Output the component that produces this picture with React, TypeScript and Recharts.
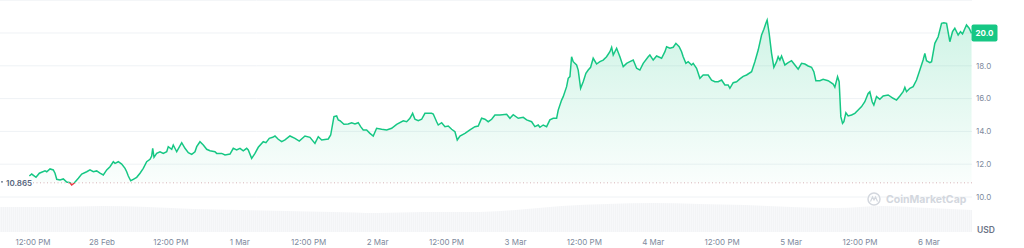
import React from 'react';
import { ComposedChart, Area, XAxis, YAxis, CartesianGrid, ReferenceLine } from 'recharts';

// hours since 27 Feb 00:00
const times = [
  11.36,11.77,12.52,13.10,14.09,14.39,14.96,15.53,15.83,16.13,
  16.70,17.27,17.87,18.44,18.74,19.14,19.89,20.48,21.35,21.92,
  22.50,23.09,23.66,24.24,24.83,25.40,25.98,26.28,26.85,27.44,
  28.02,28.31,28.59,29.01,29.46,30.05,30.63,31.20,31.79,32.37,
  32.66,32.84,33.07,33.53,34.11,34.68,35.28,35.55,36.15,36.42,
  37.02,37.89,38.46,39.04,39.63,40.20,40.50,41.07,41.65,42.24,
  42.81,43.68,43.98,44.85,45.43,46.30,46.87,47.46,48.04,48.61,
  49.20,49.48,50.07,50.65,51.22,52.09,52.56,53.14,53.73,54.13,
  54.70,55.30,55.87,56.74,57.61,58.36,59.35,60.22,61.09,61.67,
  62.26,63.41,63.83,64.40,64.87,65.15,65.45,66.14,66.89,67.48,
  68.06,68.63,69.05,69.50,70.09,70.67,71.24,71.83,72.70,73.58,
  74.45,75.32,76.47,77.06,77.63,78.10,78.50,79.08,79.67,80.24,
  81.41,81.69,82.28,82.56,83.15,83.73,84.30,84.89,85.47,85.87,
  86.34,87.21,88.08,88.95,89.52,90.11,90.69,91.26,91.86,92.43,
  93.30,94.47,95.04,95.62,96.49,97.36,97.95,98.82,99.39,99.97,
  100.26,100.84,101.43,102.00,102.58,103.17,103.45,104.04,104.32,104.91,
  105.19,105.49,105.78,106.06,106.65,106.93,107.35,107.80,108.27,108.67,
  109.09,109.54,110.13,110.71,111.28,111.87,112.45,112.75,113.03,113.62,
  114.19,114.77,115.36,115.93,116.51,117.10,117.67,118.25,119.12,119.41,
  119.99,120.58,121.45,122.03,122.32,122.90,123.47,123.94,124.51,124.93,
  125.21,125.68,126.08,126.67,126.95,127.54,128.12,128.69,129.56,130.15,
  130.73,131.30,131.90,132.47,133.04,133.34,133.92,134.51,135.08,135.66,
  136.25,137.12,137.69,138.27,138.86,139.26,139.61,139.83,140.18,140.60,
  141.00,141.47,141.75,142.05,142.34,142.92,143.49,144.08,144.66,145.23,
  145.82,146.40,146.97,147.56,147.96,148.31,149.01,149.58,150.45,151.32,
  151.62,152.09,152.37,152.66,152.96,153.19,153.54,153.94,154.53,155.10,
  155.68,156.27,156.84,157.42,157.71,158.12,158.41,158.88,159.45,160.03,
  160.90,161.77,162.36,162.94,163.51,163.81,164.10,164.68,165.25,165.84,
  166.42,166.99,167.29,167.58,168.16,168.46,169.03,169.61,170.20,170.60,
  171.07,171.64,172.11,172.51,173.09,173.50,173.85,174.54,175.00,175.42,
];

const prices = [
  11.28,11.40,11.20,11.45,11.59,11.54,11.71,11.65,11.45,11.08,
  11.04,11.10,10.91,10.87,10.73,10.84,11.14,11.40,11.54,11.65,
  11.54,11.59,11.45,11.34,11.65,11.85,12.15,12.05,12.15,12.01,
  11.75,11.54,11.28,10.99,11.08,11.20,11.45,11.75,12.15,12.30,
  12.50,12.97,12.42,12.66,12.76,12.66,12.76,13.07,12.91,13.17,
  12.76,13.31,12.97,12.70,12.60,12.76,13.07,13.37,13.17,12.91,
  12.82,12.76,12.66,12.66,12.56,12.62,12.97,12.87,12.97,12.82,
  12.97,12.87,12.36,12.66,13.03,13.37,13.31,13.58,13.64,13.72,
  13.52,13.37,13.48,13.72,13.58,13.41,13.72,13.64,13.27,13.68,
  13.48,13.54,13.78,14.90,14.94,14.70,14.65,14.43,14.45,14.53,
  14.45,14.53,14.29,14.09,14.09,13.88,13.72,14.19,14.13,14.09,
  14.19,14.43,14.65,14.59,14.80,15.10,14.74,14.65,14.74,15.10,
  15.10,15.06,14.59,14.39,14.53,14.29,14.33,14.13,13.98,13.48,
  13.72,13.88,14.09,14.29,14.33,14.80,14.74,14.59,14.74,15.00,
  15.00,15.04,14.80,15.02,14.80,14.86,14.70,14.59,14.29,14.39,
  14.25,14.39,14.29,14.70,14.80,14.80,15.30,15.91,16.12,16.73,
  17.24,17.34,18.55,18.25,18.05,17.74,16.63,17.03,17.54,17.74,
  17.91,18.46,18.11,18.25,18.35,18.55,18.86,19.13,18.66,19.07,
  18.55,17.95,18.15,18.25,18.35,17.85,17.74,18.15,18.55,18.66,
  18.35,18.60,18.46,18.86,19.16,19.07,19.13,19.37,19.16,18.86,
  18.55,18.15,18.25,18.05,18.15,17.85,17.24,17.44,17.44,17.13,
  17.03,17.03,17.13,16.83,16.83,16.63,16.97,17.03,17.20,17.36,
  17.44,17.64,18.25,18.96,19.88,20.23,20.59,20.79,19.98,18.76,
  17.91,18.25,18.55,18.35,18.60,18.05,18.19,18.31,18.05,17.79,
  18.15,18.11,17.99,17.91,17.64,17.09,17.09,17.18,17.09,16.89,
  16.69,17.34,17.03,14.90,14.49,14.59,15.14,14.94,15.00,15.10,
  15.30,15.51,15.81,16.32,16.42,15.81,15.61,16.12,15.96,16.16,
  16.22,16.02,15.91,16.16,16.42,16.69,16.42,16.63,16.73,17.13,
  17.74,18.35,18.76,18.31,18.19,18.25,19.37,19.77,20.59,20.63,
  20.59,19.47,20.08,20.29,19.88,20.08,19.94,20.49,20.29,19.98,
];

const volTimes = [6.25, 8, 16, 24, 32, 40, 48, 56, 64, 72, 80, 88, 96, 104, 112, 120, 128, 136, 144, 152, 160, 168, 175.5];
const volumes = [25, 25, 25, 26, 25, 23, 22, 21, 20, 19, 20, 20, 22, 26, 28, 29, 28, 27, 25, 24, 26, 24, 22];

const xTicks = [12, 24, 36, 48, 60, 72, 84, 96, 108, 120, 132, 144, 156, 168];
const xTickLabels = ['12:00 PM', '28 Feb', '12:00 PM', '1 Mar', '12:00 PM', '2 Mar', '12:00 PM', '3 Mar', '12:00 PM', '4 Mar', '12:00 PM', '5 Mar', '12:00 PM', '6 Mar'];
const yTicks = [10, 12, 14, 16, 18, 20, 22];
const OPEN_PRICE = 10.865;
const OPEN_LABEL = '10.865';
const LAST_PRICE_LABEL = '20.0';
const CURRENCY = 'USD';
const WATERMARK = 'CoinMarketCap';

const X_DOMAIN: [number, number] = [6.25, 175.5];
const Y_DOMAIN: [number, number] = [7.866, 22.012];

const GREEN = '#16c784';
const RED = '#ea3943';

const data = [
  ...times.map((t, i) => ({ t, price: prices[i] })),
  ...volTimes.map((t, i) => ({ t, vol: volumes[i] })),
].sort((a, b) => a.t - b.t);

const PriceTick = (props: any) => {
  const { x, y, payload } = props;
  const v = payload.value;
  if (v === 22) return <g />;
  if (v === 20) {
    return (
      <g>
        <rect x={x - 4.5} y={y - 8.5} width={26} height={17} rx={2} fill={GREEN} />
        <text x={x + 8.5} y={y} dy="0.35em" textAnchor="middle" fill="#ffffff" fontSize={8} fontWeight={700}>
          {LAST_PRICE_LABEL}
        </text>
      </g>
    );
  }
  return (
    <text x={x} y={y} dy="0.35em" textAnchor="start" fill="#808a9d" fontSize={8}>
      {v.toFixed(1)}
    </text>
  );
};

const OpenLabel = (props: any) => {
  const { viewBox } = props;
  const y = viewBox.y;
  return (
    <g>
      <rect x={0} y={y - 6} width={31} height={12} fill="#ffffff" />
      <circle cx={2} cy={y - 1} r={0.9} fill="#58667e" />
      <text x={6} y={y} dy="0.35em" fill="#58667e" fontSize={8} fontWeight={600}>
        {OPEN_LABEL}
      </text>
    </g>
  );
};

export default function App() {
  const split = (Y_DOMAIN[1] - OPEN_PRICE) / (Y_DOMAIN[1] - Y_DOMAIN[0]);
  return (
    <div style={{ position: 'absolute', left: 0, top: 0, width: 1024, height: 248, background: '#fff', fontFamily: 'Inter, sans-serif' }}>
      <style>{'body{margin:0}'}</style>
      <ComposedChart width={1024} height={248} data={data} margin={{ top: 0, right: 0, bottom: 0, left: 0 }}>
        <defs>
          <linearGradient id="fillGrad" x1="0" y1="0" x2="0" y2="1">
            <stop offset="0%" stopColor={GREEN} stopOpacity={0.34} />
            <stop offset="100%" stopColor={GREEN} stopOpacity={0.03} />
          </linearGradient>
          <linearGradient id="strokeGrad" gradientUnits="userSpaceOnUse" x1="0" y1="0" x2="0" y2="232">
            <stop offset={split} stopColor={GREEN} />
            <stop offset={split} stopColor={RED} />
          </linearGradient>
          <pattern id="volPat" width="2" height="8" patternUnits="userSpaceOnUse">
            <rect width="2" height="8" fill="#f3f4f6" />
            <rect width="0.8" height="8" fill="#f9fafb" />
          </pattern>
        </defs>
        <CartesianGrid yAxisId="p" horizontal vertical={false} stroke="#eff2f5" syncWithTicks />
        <XAxis
          dataKey="t"
          type="number"
          domain={X_DOMAIN}
          allowDataOverflow
          ticks={xTicks}
          tickFormatter={(v: number) => xTickLabels[xTicks.indexOf(v)] ?? ''}
          axisLine={false}
          tickLine={false}
          height={16}
          tickSize={6}
          tickMargin={1}
          tick={{ fontSize: 8, fill: '#808a9d' }}
          interval={0}
        />
        <YAxis
          yAxisId="p"
          orientation="right"
          width={52}
          domain={Y_DOMAIN}
          allowDataOverflow
          ticks={yTicks}
          axisLine={false}
          tickLine={false}
          tickSize={0}
          tickMargin={4}
          tick={<PriceTick />}
          interval={0}
        />
        <YAxis yAxisId="v" hide domain={[0, 232]} />
        <Area
          yAxisId="v"
          dataKey="vol"
          type="monotone"
          stroke="none"
          fill="url(#volPat)"
          fillOpacity={1}
          connectNulls
          isAnimationActive={false}
          dot={false}
          activeDot={false}
        />
        <ReferenceLine
          yAxisId="p"
          y={OPEN_PRICE}
          stroke="#d7b3b6"
          strokeDasharray="1 2.5"
          strokeWidth={1}
          label={<OpenLabel />}
        />
        <Area
          yAxisId="p"
          dataKey="price"
          type="linear"
          baseValue={OPEN_PRICE}
          stroke="url(#strokeGrad)"
          strokeWidth={1.5}
          fill="url(#fillGrad)"
          connectNulls
          isAnimationActive={false}
          dot={false}
          activeDot={false}
        />
      </ComposedChart>
      <svg width={1024} height={248} style={{ position: 'absolute', left: 0, top: 0, pointerEvents: 'none' }}>
        <circle cx={874} cy={199} r={6} fill="none" stroke="#d3d7de" strokeWidth={1.5} />
        <polyline points="870.5,201.5 872.5,197 874,200 875.5,197 877.5,201.5" fill="none" stroke="#d3d7de" strokeWidth={1.2} />
        <text x={886} y={199} dy="0.35em" fontSize={10.5} fontWeight={700} fill="#d3d7de" fontFamily="Inter, sans-serif">
          {WATERMARK}
        </text>
        <text x={977} y={230} dy="0.35em" fontSize={8.5} fontWeight={600} fill="#6b7386" fontFamily="Inter, sans-serif">
          {CURRENCY}
        </text>
      </svg>
    </div>
  );
}
